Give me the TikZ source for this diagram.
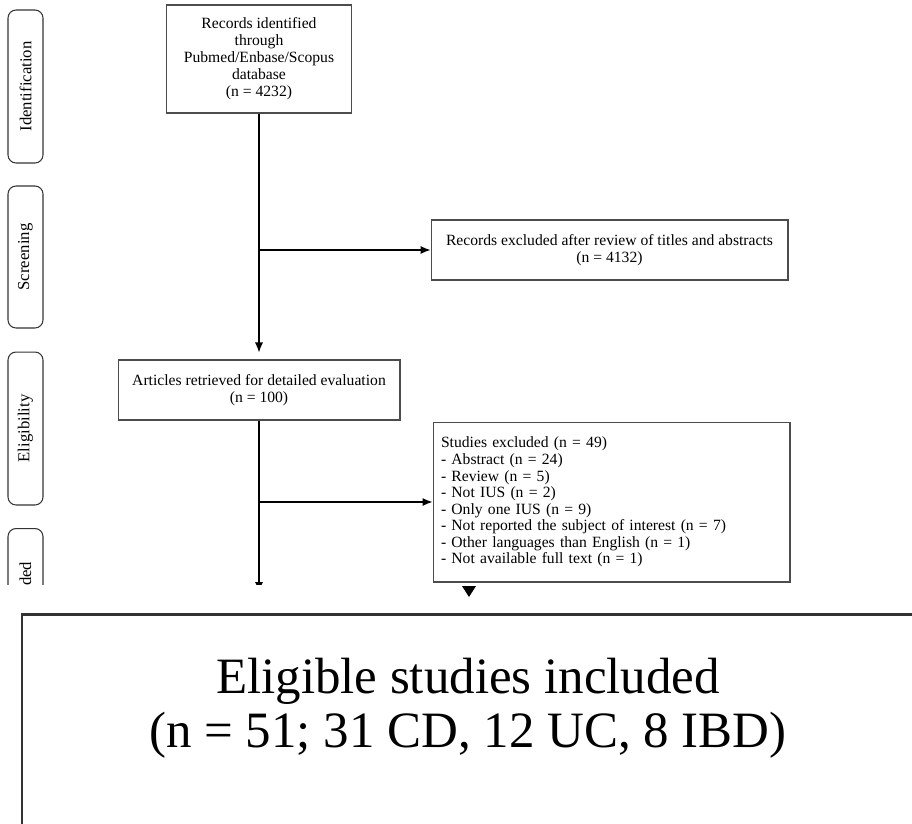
\documentclass[tikz,border=0pt]{standalone}
\usepackage{fontspec}
\setmainfont{Liberation Serif}
\usetikzlibrary{shapes.geometric, arrows, arrows.meta, positioning}

\begin{document}
\begin{tikzpicture}[x=0.02cm, y=-0.02cm, line width=0.6pt,
    font=\fontsize{8.9}{9.7}\selectfont,
    stage/.style={rectangle, rounded corners=0.16cm, draw=black!80, rotate=90, minimum height=0.7cm, inner sep=0pt, font=\fontsize{9.5}{11}\selectfont},
    flowbox/.style={rectangle, draw=black!70, align=center, inner sep=2pt},
    flow/.style={-{Latex[length=0.2cm, width=0.16cm]}, black}]
    \useasboundingbox (0,0) rectangle (912,823);

    % upper part, cut off at the bottom
    \begin{scope}
    \clip (0,0) rectangle (912,584);

    % Stages
    \node (Ident) [stage, minimum width=3.06cm] at (25.5,86.5) {Identification};
    \node (Screen) [stage, minimum width=2.84cm] at (25.5,257) {Screening};
    \node (Elig) [stage, minimum width=3.06cm] at (25.5,428.5) {Eligibility};
    \node (Incl) [stage, minimum width=2.5cm] at (25.5,591) {Included};

    % Nodes
    \node (Records) [flowbox, minimum width=3.7cm, minimum height=2.16cm] at (259,59)
        {Records identified\\through\\Pubmed/Enbase/Scopus\\database\\(n = 4232)};
    \node (ExclTitles) [flowbox, minimum width=7.14cm, minimum height=1.2cm] at (609.5,250)
        {Records excluded after review of titles and abstracts\\(n = 4132)};
    \node (Articles) [flowbox, minimum width=5.64cm, minimum height=1.2cm] at (259,390)
        {Articles retrieved for detailed evaluation\\(n = 100)};
    \node (ExclStudies) [flowbox, align=left, text width=6.82cm, inner xsep=0.16cm, minimum height=3.2cm,
        font=\fontsize{8.9}{9.4}\selectfont] at (611.5,502)
        {Studies excluded (n = 49)\\
         - Abstract (n = 24)\\
         - Review (n = 5)\\
         - Not IUS (n = 2)\\
         - Only one IUS (n = 9)\\
         - Not reported the subject of interest (n = 7)\\
         - Other languages than English (n = 1)\\
         - Not available full text (n = 1)\\[0.42cm]};
    \coordinate (Down) at (259,592);

    \draw [flow, shorten >=0.14cm] (Records.south) -- (Articles.north);
    \draw [flow] (Records.south |- ExclTitles.west) -- (ExclTitles.west);
    \draw [flow] (Articles.south) -- (Down);
    \draw [flow] (Articles.south |- ExclStudies.west) -- (ExclStudies.west);
    \end{scope}

    % tip left over below the excluded studies
    \fill (462,586) -- (476,586) -- (469,597) -- cycle;

    % enlarged box at the bottom
    \draw [line width=1.7pt, draw=black!80] (22,614) rectangle (914,880);
    \node (Eligible) [align=center, font=\fontsize{29}{30.7}\selectfont] at (468,708)
        {Eligible studies included\\(n = 51; 31 CD, 12 UC, 8 IBD)};

\end{tikzpicture}
\end{document}
